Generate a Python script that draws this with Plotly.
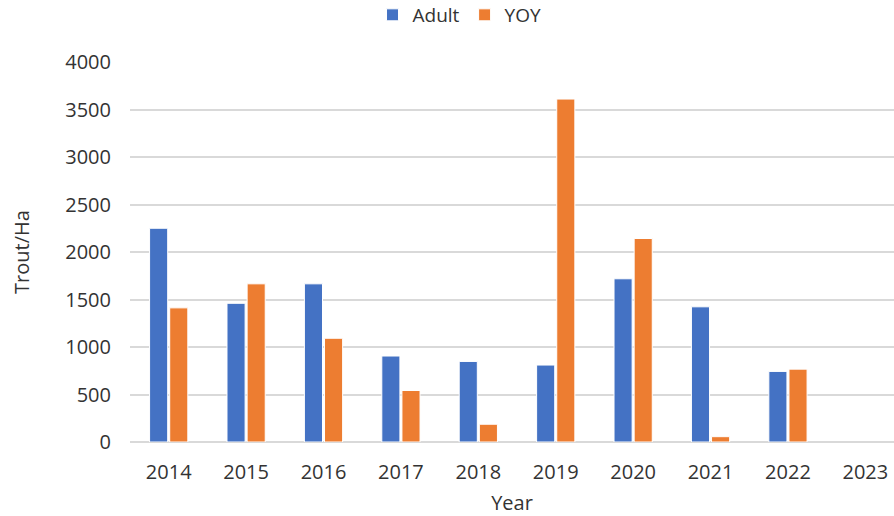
import plotly.graph_objects as go

years = ["2014", "2015", "2016", "2017", "2018", "2019", "2020", "2021", "2022", "2023"]
adult = [2250, 1460, 1665, 905, 848, 810, 1718, 1423, 743, None]
yoy = [1412, 1665, 1092, 542, 187, 3610, 2142, 56, 767, None]
y_ticks = [0, 500, 1000, 1500, 2000, 2500, 3000, 3500, 4000]

FONT = "Open Sans"
TXT = "#333333"

fig = go.Figure()
fig.add_trace(go.Bar(name="Adult", x=years, y=adult,
                     marker=dict(color="#4472C4", line=dict(color="white", width=1))))
fig.add_trace(go.Bar(name="YOY", x=years, y=yoy,
                     marker=dict(color="#ED7D31", line=dict(color="white", width=1))))

fig.update_layout(
    width=894, height=516,
    margin=dict(l=130, r=0, t=62, b=74, autoexpand=False),
    paper_bgcolor="white", plot_bgcolor="white",
    barmode="group", bargap=0.48, bargroupgap=0.1,
    font=dict(family=FONT, size=20, color=TXT),
    legend=dict(orientation="h", xref="container", yref="container",
                x=0.514, xanchor="center", y=0.971, yanchor="middle",
                font=dict(size=19, color=TXT), itemwidth=30, traceorder="normal"),
    xaxis=dict(type="category", range=[-0.5, 9.37], showline=False, ticks="",
               automargin=False, ticklabelstandoff=16,
               tickfont=dict(size=20, color=TXT),
               title=dict(text="Year", font=dict(size=20, color=TXT), standoff=17)),
    yaxis=dict(range=[0, 4000], tickvals=y_ticks, showgrid=True, gridcolor="#D9D9D9",
               gridwidth=1.5, zeroline=True, zerolinecolor="#D9D9D9", zerolinewidth=1.5,
               automargin=False, ticks="", ticklabelstandoff=18,
               tickfont=dict(size=20, color=TXT),
               title=dict(text="Trout/Ha", font=dict(size=20, color=TXT), standoff=30)),
)

fig.write_html("out.html", config={"displayModeBar": False},
               post_script="document.body.style.margin='0';")
